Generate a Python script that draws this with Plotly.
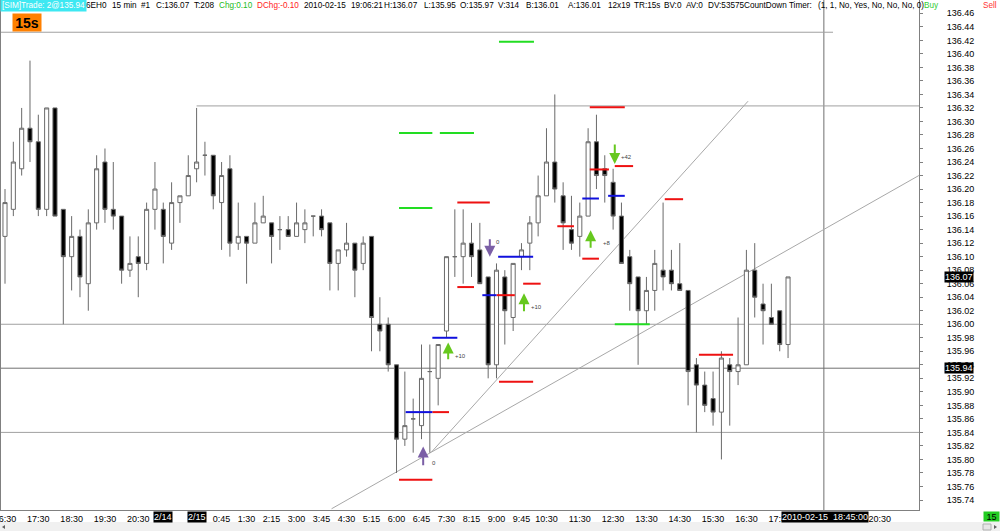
import plotly.graph_objects as go

# ---------------- data ----------------
opens = [136.13, 136.17, 136.23, 136.29, 136.27, 136.17, 136.32, 136.17, 136.10, 136.13,
         136.06, 136.15, 136.24, 136.17, 136.16, 136.08, 136.10, 136.09, 136.17, 136.17,
         136.12, 136.18, 136.19, 136.23, 136.25, 136.25, 136.18, 136.23, 136.12, 136.13,
         136.12, 136.15, 136.15, 136.14, 136.14, 136.13, 136.14, 136.16, 136.16, 136.15,
         136.09, 136.11, 136.12, 136.09, 136.13, 136.00, 136.00, 135.94, 135.83, 135.86,
         135.85, 135.93, 135.92, 135.99, 136.10, 136.10, 136.12, 136.11, 136.07, 135.94,
         136.07, 136.01, 136.10, 136.12, 136.15, 136.19, 136.24, 136.19, 136.14, 136.13,
         136.16, 136.27, 136.23, 136.21, 136.16, 136.10, 136.07, 136.02, 136.05, 136.08,
         136.08, 136.06, 136.05, 135.94, 135.91, 135.89, 135.87, 135.94, 135.93, 135.94,
         136.08, 136.03, 136.01, 136.02, 135.97]
highs = [136.20, 136.27, 136.32, 136.39, 136.31, 136.32, 136.32, 136.17, 136.16, 136.14,
         136.17, 136.25, 136.26, 136.24, 136.16, 136.13, 136.13, 136.18, 136.24, 136.18,
         136.21, 136.19, 136.25, 136.32, 136.27, 136.25, 136.24, 136.25, 136.18, 136.13,
         136.18, 136.19, 136.15, 136.16, 136.16, 136.18, 136.17, 136.16, 136.17, 136.15,
         136.11, 136.15, 136.12, 136.13, 136.13, 136.04, 136.01, 135.94, 135.93, 135.89,
         135.97, 135.97, 135.97, 136.10, 136.17, 136.17, 136.15, 136.15, 136.07, 136.09,
         136.08, 136.09, 136.12, 136.16, 136.22, 136.29, 136.34, 136.21, 136.19, 136.18,
         136.29, 136.31, 136.25, 136.23, 136.18, 136.11, 136.07, 136.07, 136.11, 136.18,
         136.11, 136.12, 136.05, 135.95, 135.93, 135.93, 135.96, 135.95, 136.01, 136.11,
         136.12, 136.06, 136.06, 136.02, 136.07]
lows = [136.06, 136.16, 136.22, 136.24, 136.16, 136.16, 136.16, 136.00, 136.05, 136.04,
        136.02, 136.14, 136.15, 136.14, 136.06, 136.07, 136.04, 136.08, 136.14, 136.09,
        136.11, 136.15, 136.19, 136.21, 136.22, 136.17, 136.11, 136.10, 136.11, 136.06,
        136.12, 136.15, 136.09, 136.11, 136.13, 136.13, 136.12, 136.13, 136.13, 136.05,
        136.05, 136.10, 136.04, 136.08, 135.96, 135.96, 135.93, 135.78, 135.82, 135.81,
        135.83, 135.81, 135.88, 135.98, 136.07, 136.06, 136.07, 136.06, 135.92, 135.92,
        135.97, 135.99, 136.08, 136.08, 136.13, 136.19, 136.18, 136.11, 136.11, 136.10,
        136.16, 136.20, 136.18, 136.14, 136.09, 136.02, 135.94, 136.00, 136.02, 136.05,
        136.05, 136.05, 135.88, 135.84, 135.87, 135.85, 135.80, 135.85, 135.91, 135.94,
        136.01, 135.97, 136.00, 135.96, 135.95]
closes = [136.18, 136.24, 136.29, 136.27, 136.17, 136.32, 136.16, 136.10, 136.13, 136.07,
          136.15, 136.23, 136.17, 136.16, 136.08, 136.09, 136.09, 136.17, 136.20, 136.13,
          136.18, 136.19, 136.22, 136.24, 136.25, 136.19, 136.22, 136.12, 136.13, 136.12,
          136.15, 136.16, 136.13, 136.14, 136.13, 136.15, 136.15, 136.16, 136.14, 136.09,
          136.11, 136.12, 136.08, 136.12, 136.01, 135.99, 135.94, 135.83, 135.85, 135.86,
          135.92, 135.93, 135.97, 136.10, 136.10, 136.12, 136.10, 136.06, 135.94, 136.08,
          136.02, 136.09, 136.11, 136.15, 136.19, 136.24, 136.20, 136.15, 136.12, 136.16,
          136.27, 136.22, 136.22, 136.16, 136.09, 136.06, 136.02, 136.05, 136.09, 136.07,
          136.06, 136.05, 135.93, 135.91, 135.88, 135.87, 135.95, 135.93, 135.94, 136.08,
          136.04, 136.02, 136.00, 135.97, 136.07]
bars = list(range(len(opens)))

# time axis labels (bar index -> label)
time_tick_bars = [0, 4, 8, 12, 16, 26, 29, 32, 35, 38, 41, 44, 47, 50, 53, 56, 59, 62, 65,
                  69, 73, 77, 81, 85, 89, 93, 105]
time_tick_text = ["16:30", "17:30", "18:30", "19:30", "20:30", "0:45", "1:30", "2:15", "3:00",
                  "3:45", "4:30", "5:15", "6:00", "6:45", "7:30", "8:15", "9:00", "9:45",
                  "10:30", "11:30", "12:30", "13:30", "14:30", "15:30", "16:30", "17:30", "20:30"]
date_tick_bars = [19, 23]
date_tick_text = ["2/14", "2/15"]

price_ticks = [135.74, 135.76, 135.78, 135.80, 135.82, 135.84, 135.86, 135.88, 135.90, 135.92,
               135.94, 135.96, 135.98, 136.00, 136.02, 136.04, 136.06, 136.08, 136.10, 136.12,
               136.14, 136.16, 136.18, 136.20, 136.22, 136.24, 136.26, 136.28, 136.30, 136.32,
               136.34, 136.36, 136.38, 136.40, 136.42, 136.44, 136.46]

# horizontal reference lines: price, first bar, last bar
hl_price = [136.432, 136.323, 136.00, 135.84]
hl_start = [-1, 23, -1, -1]
hl_end = [99.4, 111, 111, 111]
cursor_price = 135.935
cursor_bar = 98.3

# trend lines: (bar, price) pairs
trend_a = [(39.2, 135.727), (109.7, 136.22)]
trend_b = [(51.2, 135.811), (89.2, 136.330)]

# order level markers: price, from bar, to bar
green_price = [136.418, 136.283, 136.283, 136.172, 136.00]
green_from = [59.3, 47.3, 52.2, 47.3, 73.2]
green_to = [63.5, 51.3, 56.3, 51.3, 77.4]
red_price = [135.77, 136.18, 136.055, 135.87, 135.915, 136.06, 136.043, 136.145, 136.097,
             136.321, 136.229, 136.234, 136.185, 135.955]
red_from = [47.3, 54.3, 54.3, 51.3, 59.3, 62.2, 59.0, 66.3, 69.3, 70.2, 70.2, 73.2, 79.2, 83.3]
red_to = [51.3, 58.2, 56.3, 53.3, 63.4, 64.3, 61.2, 68.3, 71.3, 74.4, 72.5, 75.4, 81.4, 87.4]
blue_price = [135.87, 135.98, 136.043, 136.10, 136.186, 136.19]
blue_from = [48.1, 51.3, 57.3, 59.2, 69.3, 72.4]
blue_to = [51.3, 54.3, 59.0, 63.4, 71.3, 74.4]

# trade arrows: bar, tail price, head price, colour key, label, label bar, label price
arrow_bar = [50.2, 53.2, 58.2, 62.3, 70.3, 73.2]
arrow_tail = [135.789, 135.946, 136.128, 136.017, 136.111, 136.268]
arrow_head = [135.819, 135.973, 136.100, 136.046, 136.139, 136.237]
arrow_kind = ["p", "g", "p", "g", "g", "g"]
arrow_label = ["0", "+10", "0", "+10", "+8", "+42"]
label_bar = [51.0, 53.8, 58.7, 62.9, 71.5, 73.7]
label_price = [135.795, 135.953, 136.121, 136.026, 136.120, 136.248]

# ---------------- layout geometry ----------------
W, H = 1000, 531
ML, MR, MT, MB = 1, 81, 0, 21
PW, PH = W - ML - MR, H - MT - MB
XR = [-0.48, 109.72]
YR = [135.7252, 136.4797]


def px(x):
    return (x - ML) / PW


def py(y):
    return 1 - (y - MT) / PH


FONT = "Liberation Sans, Arial, sans-serif"
GRID = "#a0a0a0"
HDR = 8.2

fig = go.Figure()

fig.add_trace(go.Candlestick(
    x=bars, open=opens, high=highs, low=lows, close=closes,
    increasing=dict(line=dict(color="#6a6a6a", width=1), fillcolor="#ffffff"),
    decreasing=dict(line=dict(color="#6a6a6a", width=1), fillcolor="#000000"),
    whiskerwidth=0, showlegend=False, hoverinfo="skip"))


def seg_trace(prices, x0s, x1s, color):
    xs, ys = [], []
    for p, a, b in zip(prices, x0s, x1s):
        xs += [a, b, None]
        ys += [p, p, None]
    return go.Scatter(x=xs, y=ys, mode="lines", line=dict(color=color, width=2),
                      showlegend=False, hoverinfo="skip")


fig.add_trace(seg_trace(green_price, green_from, green_to, "#22dd22"))
fig.add_trace(seg_trace(red_price, red_from, red_to, "#ee1111"))
fig.add_trace(seg_trace(blue_price, blue_from, blue_to, "#1010dd"))

shapes = []
for p, a, b in zip(hl_price, hl_start, hl_end):
    shapes.append(dict(type="line", xref="x", yref="y", x0=a, x1=b, y0=p, y1=p,
                       line=dict(color=GRID, width=1), layer="below"))
shapes.append(dict(type="line", xref="x", yref="y", x0=-1, x1=111, y0=cursor_price,
                   y1=cursor_price, line=dict(color="#707070", width=1), layer="below"))
shapes.append(dict(type="line", xref="x", yref="paper", x0=cursor_bar, x1=cursor_bar,
                   y0=0, y1=1, line=dict(color="#707070", width=1), layer="below"))
for tl in (trend_a, trend_b):
    shapes.append(dict(type="line", xref="x", yref="y", x0=tl[0][0], y0=tl[0][1],
                       x1=tl[1][0], y1=tl[1][1], line=dict(color="#a8a8a8", width=1),
                       layer="below"))

# bottom scroll bar strip
shapes.append(dict(type="rect", xref="paper", yref="paper", x0=px(0), x1=px(1000),
                   y0=py(531), y1=py(522), fillcolor="#f0f0f0", line=dict(width=0)))
shapes.append(dict(type="rect", xref="paper", yref="paper", x0=px(983), x1=px(991),
                   y0=py(530), y1=py(524), fillcolor="#e6e6e6",
                   line=dict(color="#b0b0b0", width=1)))
# scroll arrows as small triangles
shapes.append(dict(type="path", xref="paper", yref="paper",
                   path="M %f %f L %f %f L %f %f Z" % (px(2), py(527), px(5), py(525),
                                                       px(5), py(529)),
                   fillcolor="#606060", line=dict(width=0)))
shapes.append(dict(type="path", xref="paper", yref="paper",
                   path="M %f %f L %f %f L %f %f Z" % (px(997), py(527), px(994), py(525),
                                                       px(994), py(529)),
                   fillcolor="#606060", line=dict(width=0)))

ann = []
colors = {"p": "#7b5fa6", "g": "#66c81e"}
for b, t, h, k in zip(arrow_bar, arrow_tail, arrow_head, arrow_kind):
    ann.append(dict(x=b, y=h, ax=b, ay=t, xref="x", yref="y", axref="x", ayref="y",
                    text="", showarrow=True, arrowhead=2, arrowsize=1.1, arrowwidth=2,
                    arrowcolor=colors[k]))
for b, p, t in zip(label_bar, label_price, arrow_label):
    ann.append(dict(x=b, y=p, xref="x", yref="y", text=t, showarrow=False,
                    xanchor="left", yanchor="middle",
                    font=dict(family=FONT, size=6, color="#444444")))

# date tick labels (inverted)
for b, t in zip(date_tick_bars, date_tick_text):
    ann.append(dict(x=b, y=py(517), xref="x", yref="paper", text=t, showarrow=False,
                    xanchor="center", yanchor="middle", bgcolor="#000000", borderpad=0,
                    font=dict(family=FONT, size=9, color="#ffffff")))
ann.append(dict(x=px(824.5), y=py(517), xref="paper", yref="paper",
                text="2010-02-15  18:45:00", showarrow=False, xanchor="center",
                yanchor="middle", bgcolor="#000000", borderpad=0,
                font=dict(family=FONT, size=9, color="#ffffff")))

# highlighted price labels
for p, t in [(136.07, "136.07"), (cursor_price, "135.94")]:
    ann.append(dict(x=px(958.5), y=p, xref="paper", yref="y", text=t, showarrow=False,
                    xanchor="center", yanchor="middle", bgcolor="#000000", borderpad=0,
                    font=dict(family=FONT, size=9, color="#ffffff")))

# header line
header = [
    (85, "6EH0", "#000000"), (111, "15 min", "#000000"), (140, "#1", "#000000"),
    (155, "C:136.07", "#000000"), (193, "T:208", "#000000"), (218, "Chg:0.10", "#22bb22"),
    (256, "DChg:-0.10", "#ff2222"), (303, "2010-02-15", "#000000"),
    (350, "19:06:21", "#000000"), (383, "H:136.07", "#000000"), (423, "L:135.95", "#000000"),
    (459, "O:135.97", "#000000"), (497, "V:314", "#000000"), (525, "B:136.01", "#000000"),
    (567, "A:136.01", "#000000"), (607, "12x19", "#000000"), (633, "TR:15s", "#000000"),
    (663, "BV:0", "#000000"), (685, "AV:0", "#000000"), (707, "DV:53575", "#000000"),
    (743, "CountDown Timer:", "#000000"), (817, "(1, 1, No, Yes, No, No, No, 0)", "#000000"),
    (923, "Buy", "#33cc33"), (982, "Sell", "#ff3333"),
]
for x, t, c in header:
    ann.append(dict(x=px(x), y=py(6), xref="paper", yref="paper", text=t, showarrow=False,
                    xanchor="left", yanchor="middle", borderpad=0,
                    font=dict(family=FONT, size=HDR, color=c)))
ann.append(dict(x=px(0), y=py(6), xref="paper", yref="paper", text="[SIM]Trade: 2@135.94",
                showarrow=False, xanchor="left", yanchor="middle", bgcolor="#3ee8f2",
                borderpad=1, font=dict(family=FONT, size=HDR, color="#ffffff")))
ann.append(dict(x=px(27), y=py(22.5), xref="paper", yref="paper", text="<b>15s</b>",
                showarrow=False, xanchor="center", yanchor="middle", bgcolor="#ff8000",
                width=28, height=17, borderpad=0,
                font=dict(family=FONT, size=14, color="#000000")))
ann.append(dict(x=px(991.5), y=py(516.5), xref="paper", yref="paper", text="15",
                showarrow=False, xanchor="center", yanchor="middle", bgcolor="#22cc22",
                width=15, height=9, borderpad=0,
                font=dict(family=FONT, size=9, color="#000000")))

fig.update_layout(
    width=W, height=H, margin=dict(l=ML, r=MR, t=MT, b=MB, autoexpand=False),
    paper_bgcolor="#ffffff", plot_bgcolor="#ffffff",
    shapes=shapes, annotations=ann, showlegend=False, hovermode=False,
    xaxis=dict(range=XR, rangeslider=dict(visible=False), showgrid=False, zeroline=False,
               showline=True, linecolor="#808080", linewidth=1, ticks="",
               tickmode="array", tickvals=time_tick_bars, ticktext=time_tick_text,
               ticklabeloverflow="allow",
               tickfont=dict(family=FONT, size=9, color="#000000"), automargin=False,
               fixedrange=True),
    yaxis=dict(range=YR, side="right", showgrid=False, zeroline=False, showline=True,
               mirror=True, linecolor="#808080", linewidth=1, ticks="outside", ticklen=3,
               tickcolor="#808080", tickmode="array", tickvals=price_ticks,
               ticktext=["%.2f" % v for v in price_ticks], ticklabelstandoff=22,
               tickfont=dict(family=FONT, size=9, color="#000000"), automargin=False,
               fixedrange=True),
)

fig.write_html("out.html", config={"displayModeBar": False},
               post_script="document.body.style.margin='0';document.body.style.overflow='hidden';")
